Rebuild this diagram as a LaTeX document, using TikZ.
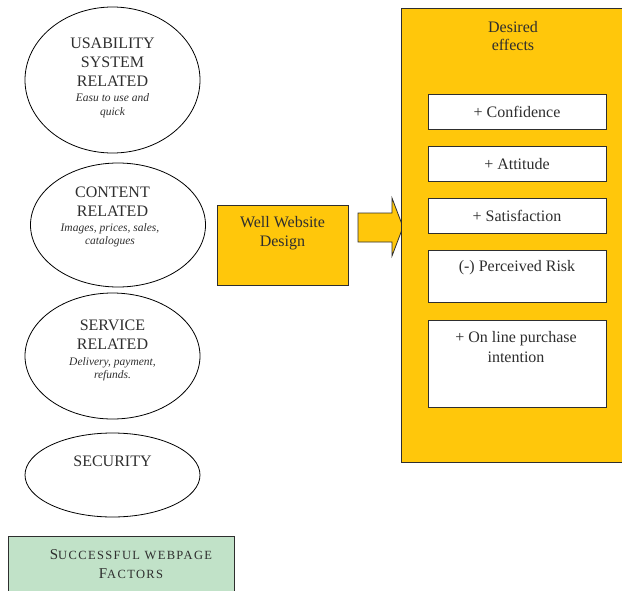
\documentclass[tikz,border=0pt]{standalone}
\usepackage{fontspec}
\setmainfont{Liberation Serif}
\newfontfamily\spacedfont[LetterSpace=11]{Liberation Serif}
\usetikzlibrary{shapes.geometric,positioning}
\definecolor{Gold}{HTML}{FFC70B}
\definecolor{Mint}{HTML}{C1E2C8}
\definecolor{Ink}{HTML}{2E2E2E}

\begin{document}
\begin{tikzpicture}[x=1pt,y=-1pt,
    factor/.style={ellipse,draw=black,line width=0.8pt,minimum width=175pt},
    goldbox/.style={draw=Ink,fill=Gold,line width=0.8pt},
    effectbox/.style={draw=Ink,fill=white,line width=0.8pt,minimum width=178pt},
    big/.style={align=center,text=Ink,font=\fontsize{16}{19}\selectfont},
    note/.style={align=center,text=Ink,font=\fontsize{11.5}{13.5}\selectfont\itshape}]
    \clip (0,0) rectangle (622,590);
    % factors on the left
    \node[factor,minimum height=146pt] (usab) at (112.5,80) {};
    \node[factor,minimum height=124pt] (cont) at (118,225) {};
    \node[factor,minimum height=126pt] (serv) at (112.5,356) {};
    \node[factor,minimum height=84pt] (secu) at (112.5,475) {};
    \node[big] (usabtitle) at (112.5,62) {USABILITY\\SYSTEM\\RELATED};
    \node[note] (usabnote) at (112.5,105.5) {Easu to use and\\quick};
    \node[big] (conttitle) at (112.5,201.5) {CONTENT\\RELATED};
    \node[note] (contnote) at (110,235) {Images, prices, sales,\\catalogues};
    \node[big] (servtitle) at (112.5,334.5) {SERVICE\\RELATED};
    \node[note] (servnote) at (112.5,369) {Delivery, payment,\\refunds.};
    \node[big] (secutitle) at (112.5,461) {SECURITY};
    \draw[Ink,fill=Mint,line width=0.8pt] (8,536) rectangle (234,600);
    \node[align=center,text=Ink,font=\spacedfont\fontsize{12.5}{18.5}\selectfont] (legend) at (131,564)
      {{\fontsize{15}{18.5}\selectfont S}UCCESSFUL WEBPAGE\\
       {\fontsize{15}{18.5}\selectfont F}ACTORS};
    % design box and block arrow
    \node[goldbox,minimum width=131pt,minimum height=80pt] (design) at (282.5,245) {};
    \node[big] (designtxt) at (282.5,233) {Well Website\\Design};
    \filldraw[goldbox] (358,213) -- (392,213) -- (392,198) -- (403,227)
      -- (392,256) -- (392,242) -- (358,242) -- cycle;
    % desired effects
    \node[goldbox,minimum width=221pt,minimum height=454pt] (effects) at (511.5,235) {};
    \node[big,font=\fontsize{16}{18}\selectfont] (effhead) at (513,36) {Desired\\effects};
    \node[effectbox,minimum height=35pt] (conf) at (517,111.5) {};
    \node[effectbox,minimum height=35pt] (att) at (517,163.5) {};
    \node[effectbox,minimum height=35pt] (sat) at (517,215.5) {};
    \node[effectbox,minimum height=52pt] (risk) at (517,276.5) {};
    \node[effectbox,minimum height=87pt] (purch) at (517,363.5) {};
    \node[big] (conftxt) at (517,112) {+ Confidence};
    \node[big] (atttxt) at (517,164) {+ Attitude};
    \node[big] (sattxt) at (517,216) {+ Satisfaction};
    \node[big] (risktxt) at (517,268) {(-) Perceived Risk};
    \node[big,font=\fontsize{16}{20}\selectfont] (purchtxt) at (516,347.5) {+ On line purchase\\intention};
\end{tikzpicture}
\end{document}
